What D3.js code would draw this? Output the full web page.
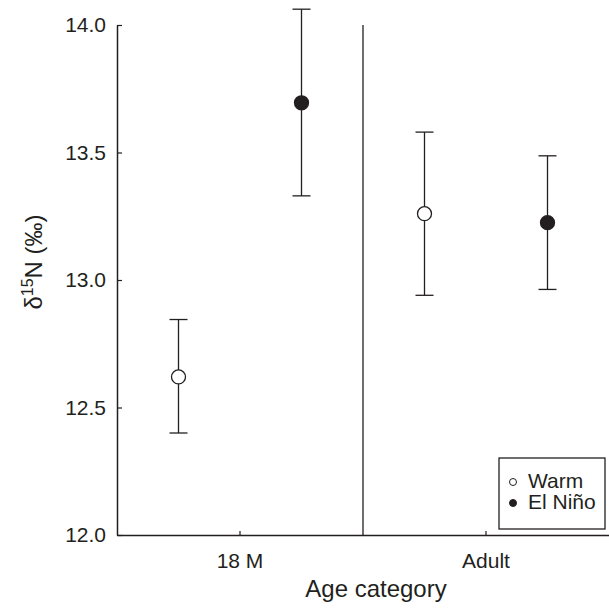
<!DOCTYPE html>
<html>
<head>
<meta charset="utf-8">
<script src="https://cdn.jsdelivr.net/npm/d3@7"></script>
<style>
  body { margin: 0; background: #fff; }
  text { font-family: "Liberation Sans", Arial, sans-serif; fill: #231f20; }
</style>
</head>
<body>
<div id="chart-container"></div>
<script>
// Data
const categories = ["18 M", "Adult"];
const groups = ["Warm", "El Niño"];
const warmMean = [12.62, 13.26];
const warmLow = [12.40, 12.94];
const warmHigh = [12.845, 13.58];
const ninoMean = [13.695, 13.225];
const ninoLow = [13.33, 12.963];
const ninoHigh = [14.062, 13.487];
const yTicks = [12.0, 12.5, 13.0, 13.5, 14.0];

const ink = "#231f20";
const margin = { top: 25, right: 0, bottom: 75, left: 117 };
const width = 609 - margin.left - margin.right;
const height = 610 - margin.top - margin.bottom;

const svg = d3.select("#chart-container")
  .append("svg")
  .attr("width", 609)
  .attr("height", 610)
  .append("g")
  .attr("transform", `translate(${margin.left},${margin.top})`);

const x = d3.scaleBand().domain(categories).range([0, width]).padding(0);
const y = d3.scaleLinear().domain([12, 14]).range([height, 0]);
const offset = x.bandwidth() / 4;

// Axes (ticks point inward)
const yAxis = svg.append("g")
  .call(d3.axisLeft(y).tickValues(yTicks).tickFormat(d3.format(".1f")).tickSizeInner(-5).tickSizeOuter(0).tickPadding(11));
const xAxis = svg.append("g")
  .attr("transform", `translate(0,${height})`)
  .call(d3.axisBottom(x).tickSizeInner(-4).tickSizeOuter(0).tickPadding(18));

[yAxis, xAxis].forEach(a => {
  a.select(".domain").attr("stroke", ink).attr("stroke-width", 1.5);
  a.selectAll(".tick line").attr("stroke", ink).attr("stroke-width", 1.2);
  a.selectAll(".tick text").style("font-size", "21px").attr("fill", ink);
});

// Divider between categories
svg.append("line")
  .attr("x1", x("Adult")).attr("x2", x("Adult"))
  .attr("y1", y(14)).attr("y2", height)
  .attr("stroke", ink).attr("stroke-width", 1.3);

// Points with error bars
const points = [];
categories.forEach((c, i) => {
  points.push({ cat: c, dx: -offset, mean: warmMean[i], lo: warmLow[i], hi: warmHigh[i], filled: false });
  points.push({ cat: c, dx: offset, mean: ninoMean[i], lo: ninoLow[i], hi: ninoHigh[i], filled: true });
});

const cap = 9;
const pt = svg.selectAll(".pt").data(points).enter().append("g")
  .attr("class", "pt")
  .attr("transform", d => `translate(${x(d.cat) + x.bandwidth() / 2 + d.dx},0)`);

pt.append("line")
  .attr("y1", d => y(d.lo)).attr("y2", d => y(d.hi))
  .attr("stroke", ink).attr("stroke-width", 1.3);
pt.append("line")
  .attr("x1", -cap).attr("x2", cap)
  .attr("y1", d => y(d.hi)).attr("y2", d => y(d.hi))
  .attr("stroke", ink).attr("stroke-width", 1.3);
pt.append("line")
  .attr("x1", -cap).attr("x2", cap)
  .attr("y1", d => y(d.lo)).attr("y2", d => y(d.lo))
  .attr("stroke", ink).attr("stroke-width", 1.3);
pt.append("circle")
  .attr("cy", d => y(d.mean))
  .attr("r", 7)
  .attr("fill", d => d.filled ? ink : "#fff")
  .attr("stroke", ink).attr("stroke-width", 1.3);

// Legend
const legend = svg.append("g").attr("transform", `translate(${499 - margin.left},${458 - margin.top})`);
legend.append("rect")
  .attr("width", 106).attr("height", 71)
  .attr("fill", "#fff").attr("stroke", ink).attr("stroke-width", 1.3);
groups.forEach((g, i) => {
  const row = legend.append("g").attr("transform", `translate(0,${30 + i * 21})`);
  row.append("circle")
    .attr("cx", 14).attr("cy", -6).attr("r", 3.5)
    .attr("fill", i === 0 ? "#fff" : ink)
    .attr("stroke", ink).attr("stroke-width", 1);
  row.append("text")
    .attr("x", 29).attr("y", 0)
    .style("font-size", "21px")
    .text(g);
});

// Axis titles
svg.append("text")
  .attr("x", 376 - margin.left)
  .attr("y", 597 - margin.top)
  .attr("text-anchor", "middle")
  .style("font-size", "24px")
  .text("Age category");

const yt = svg.append("text")
  .attr("transform", `translate(${42 - margin.left},${262 - margin.top}) rotate(-90)`)
  .attr("text-anchor", "middle")
  .style("font-size", "24px");
yt.append("tspan").text("δ");
yt.append("tspan").attr("dy", -9).style("font-size", "16px").text("15");
yt.append("tspan").attr("dy", 9).text("N (‰)");
</script>
</body>
</html>
